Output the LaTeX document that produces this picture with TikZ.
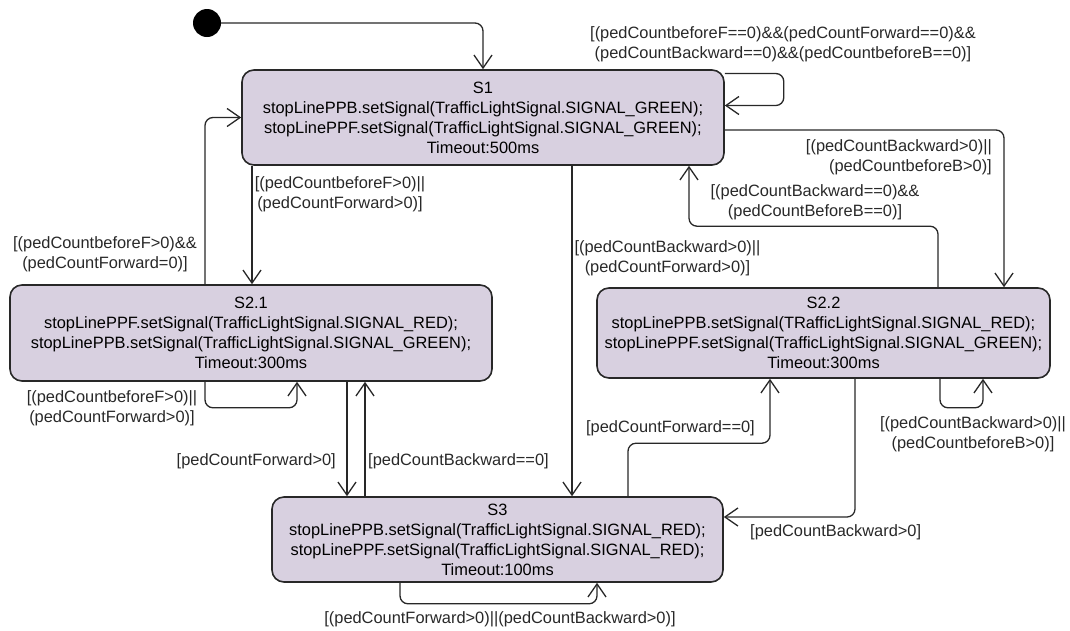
\documentclass[tikz,border=0pt]{standalone}
\usepackage{fontspec}
\setmainfont{Liberation Sans}
\usetikzlibrary{arrows.meta}
\definecolor{statefill}{RGB}{216,208,224}
\definecolor{edgecol}{RGB}{40,40,40}
\begin{document}
\begin{tikzpicture}[x=1pt,y=-1pt,
  every node/.style={font=\fontsize{16.4}{20}\selectfont},
  state/.style={draw=edgecol, line width=1.6pt, fill=statefill, rounded corners=12pt,
    align=center, inner sep=0pt},
  lab/.style={inner sep=0pt, align=center, text=edgecol},
  arr/.style={draw=edgecol, line width=1.3pt, rounded corners=8pt,
    -{Straight Barb[length=13pt,width=18pt,line width=1.3pt]}},
  initdot/.style={circle, fill=black, minimum size=28pt, inner sep=0pt}]
\useasboundingbox (0,0) rectangle (1070,630);

\node[initdot] (init) at (207,23) {};

\node[state, minimum width=482pt, minimum height=95pt] (S1) at (483,117.5)
  {S1\\stopLinePPB.setSignal(TrafficLightSignal.SIGNAL\_GREEN);\\
   stopLinePPF.setSignal(TrafficLightSignal.SIGNAL\_GREEN);\\Timeout:500ms};
\node[state, minimum width=482pt, minimum height=96pt] (S21) at (251,333)
  {S2.1\\stopLinePPF.setSignal(TrafficLightSignal.SIGNAL\_RED);\\
   stopLinePPB.setSignal(TrafficLightSignal.SIGNAL\_GREEN);\\Timeout:300ms};
\node[state, minimum width=453pt, minimum height=90pt] (S22) at (823.5,333)
  {S2.2\\stopLinePPB.setSignal(TRafficLightSignal.SIGNAL\_RED);\\
   stopLinePPF.setSignal(TrafficLightSignal.SIGNAL\_GREEN);\\Timeout:300ms};
\node[state, minimum width=451pt, minimum height=85pt] (S3) at (497.5,539.5)
  {S3\\stopLinePPB.setSignal(TrafficLightSignal.SIGNAL\_RED);\\
   stopLinePPF.setSignal(TrafficLightSignal.SIGNAL\_RED);\\Timeout:100ms};

% initial
\draw[arr] (init.east) -| (S1.north);

% S1 self loop
\draw[arr] ([yshift=44pt]S1.east) -- ++(59,0) -- ++(0,32) -- ([yshift=12pt]S1.east);
\node[lab] (l1) at (783,44.5)
  {[(pedCountbeforeF==0)\&\&(pedCountForward==0)\&\&\\(pedCountBackward==0)\&\&(pedCountbeforeB==0)]};

% S1 -> S2.2
\draw[arr] ([yshift=-12.5pt]S1.east) -| ([xshift=180.5pt]S22.north);
\node[lab, anchor=east, align=right] (l2) at (992,157.5)
  {[(pedCountBackward>0)||\\(pedCountbeforeB>0)]};

% S2.2 -> S1
\draw[arr] ([xshift=114.5pt]S22.north) -- ++(0,-61) -| ([xshift=206pt]S1.south);
\node[lab] (l3) at (815,202)
  {[(pedCountBackward==0)\&\&\\(pedCountBeforeB==0)]};

% S2.2 self loop
\draw[arr] ([xshift=116.5pt]S22.south) -- ++(0,29) -| ([xshift=159.5pt]S22.south);
\node[lab] (l4) at (973,434)
  {[(pedCountBackward>0)||\\(pedCountbeforeB>0)]};

% S2.2 -> S3
\draw[arr] ([xshift=31.5pt]S22.south) |- ([yshift=22.5pt]S3.east);
\node[lab, anchor=west] (l5) at (750,532) {[pedCountBackward>0]};

% S3 -> S2.2
\draw[arr] ([xshift=130.5pt]S3.north) -- ++(0,-53) -| ([xshift=-53.5pt]S22.south);
\node[lab, anchor=east] (l6) at (755,428) {[pedCountForward==0]};

% S3 self loop
\draw[arr] ([xshift=-97.5pt]S3.south) -- ++(0,21) -| ([xshift=99.5pt]S3.south);
\node[lab] (l7) at (500,619) {[(pedCountForward>0)||(pedCountBackward>0)]};

% S1 -> S3
\draw[arr] ([xshift=89pt]S1.south) -- ([xshift=74.5pt]S3.north);
\node[lab] (l8) at (667.5,258) {[(pedCountBackward>0)||\\(pedCountForward>0)]};

% S1 -> S2.1
\draw[arr] ([xshift=-231pt]S1.south) -- ([xshift=1pt]S21.north);
\node[lab] (l9) at (340,194.5) {[(pedCountbeforeF>0)||\\(pedCountForward>0)]};

% S2.1 -> S1
\draw[arr] ([xshift=-46pt]S21.north) |- (S1.west);
\node[lab] (l10) at (105,254) {[(pedCountbeforeF>0)\&\&\\(pedCountForward=0)]};

% S2.1 self loop
\draw[arr] ([xshift=-46pt]S21.south) -- ++(0,26) -| ([xshift=46pt]S21.south);
\node[lab] (l11) at (112,408) {[(pedCountbeforeF>0)||\\(pedCountForward>0)]};

% S2.1 -> S3
\draw[arr] ([xshift=96pt]S21.south) -- ([xshift=-150.5pt]S3.north);
\node[lab, anchor=east] (l12) at (336,461) {[pedCountForward>0]};

% S3 -> S2.1
\draw[arr] ([xshift=-132.5pt]S3.north) -- ([xshift=114pt]S21.south);
\node[lab, anchor=west] (l13) at (368,461) {[pedCountBackward==0]};
\end{tikzpicture}
\end{document}
